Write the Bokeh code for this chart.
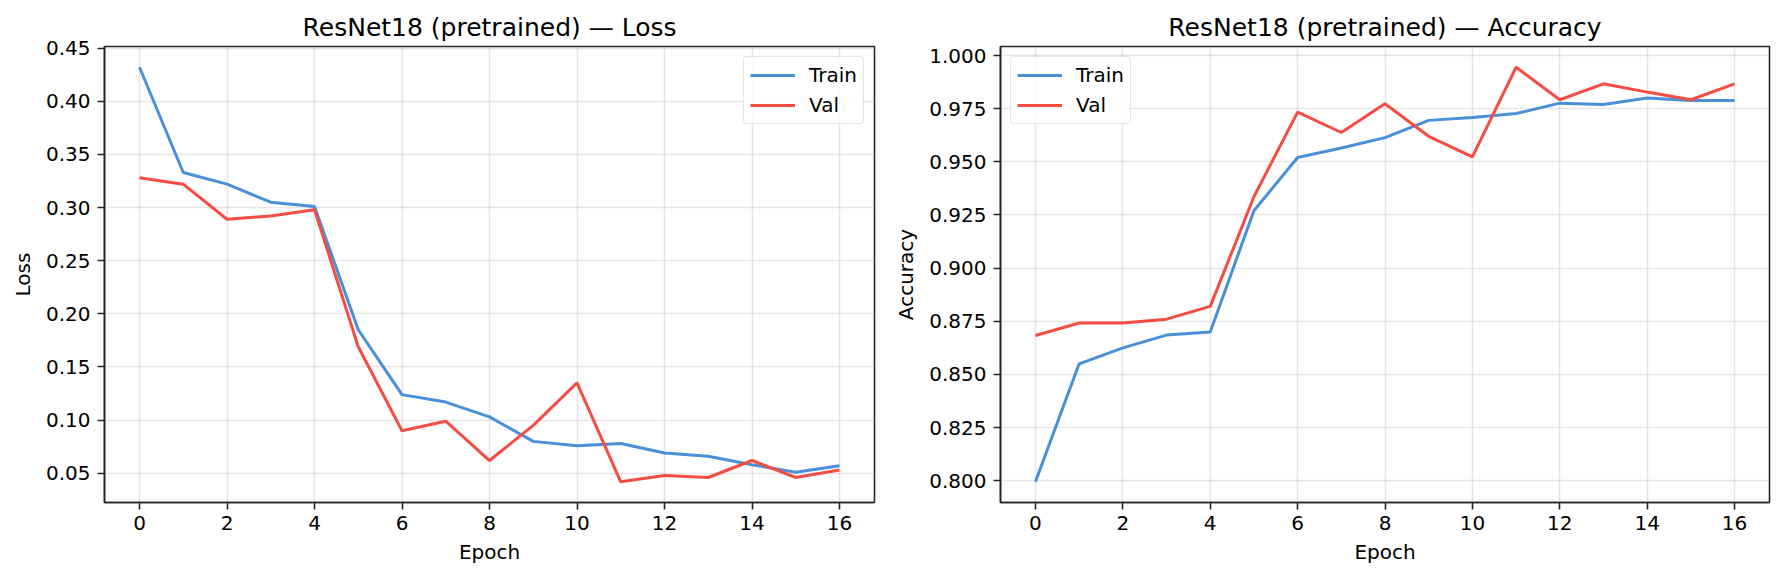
from bokeh.plotting import figure
from bokeh.layouts import row
from bokeh.models import SingleIntervalTicker, PrintfTickFormatter, Range1d, Legend, LegendItem
from bokeh.embed import file_html
from bokeh.resources import INLINE

epochs = list(range(17))
train_loss = [0.432, 0.333, 0.322, 0.305, 0.301, 0.185, 0.124, 0.117, 0.103, 0.080,
              0.076, 0.078, 0.069, 0.066, 0.058, 0.051, 0.057]
val_loss = [0.328, 0.322, 0.289, 0.292, 0.298, 0.169, 0.090, 0.099, 0.062, 0.095,
            0.135, 0.042, 0.048, 0.046, 0.062, 0.046, 0.053]
train_acc = [0.7995, 0.855, 0.8625, 0.8685, 0.870, 0.927, 0.952, 0.9565, 0.9614, 0.9695,
             0.9708, 0.9727, 0.9776, 0.977, 0.980, 0.9788, 0.9788]
val_acc = [0.8683, 0.8742, 0.8742, 0.876, 0.882, 0.9336, 0.9734, 0.9638, 0.9773, 0.962,
           0.9523, 0.9945, 0.9792, 0.9867, 0.9828, 0.9792, 0.9867]
series_labels = ["Train", "Val"]
titles = ["ResNet18 (pretrained) \u2014 Loss", "ResNet18 (pretrained) \u2014 Accuracy"]
y_labels = ["Loss", "Accuracy"]
x_label = "Epoch"

BLUE = "#4a90d9"
RED = "#f54c44"
FONT = "DejaVu Sans"
INK = "#262626"


def padded(vals, frac=0.05):
    lo, hi = min(vals), max(vals)
    d = (hi - lo) * frac
    return lo - d, hi + d


def make(title, ylab, tr, va, y_interval, fmt, legend_loc, bl, br, w):
    x0, x1 = padded(epochs)
    y0, y1 = padded(tr + va)
    p = figure(width=w, height=572, output_backend="svg", toolbar_location=None,
               x_range=Range1d(x0, x1), y_range=Range1d(y0, y1),
               min_border_left=bl, min_border_right=br, min_border_top=46, min_border_bottom=70)
    p.title.text = title
    p.title.text_font = FONT
    p.title.text_font_size = "25px"
    p.title.text_font_style = "normal"
    p.title.text_color = "black"
    p.title.align = "center"
    p.title.standoff = 10

    r1 = p.line(epochs, tr, line_color=BLUE, line_width=3)
    r2 = p.line(epochs, va, line_color=RED, line_width=3)

    p.xaxis.ticker = SingleIntervalTicker(interval=2)
    p.yaxis.ticker = SingleIntervalTicker(interval=y_interval)
    p.yaxis.formatter = PrintfTickFormatter(format=fmt)
    p.xaxis.axis_label = x_label
    p.yaxis.axis_label = ylab
    for ax in (p.xaxis, p.yaxis):
        ax.axis_line_color = INK
        ax.axis_line_width = 1.6
        ax.major_tick_line_color = INK
        ax.major_tick_line_width = 1.6
        ax.major_tick_out = 7
        ax.major_tick_in = 0
        ax.minor_tick_out = 0
        ax.minor_tick_in = 0
        ax.major_label_text_font = FONT
        ax.major_label_text_font_size = "20px"
        ax.major_label_text_color = "black"
        ax.axis_label_text_font = FONT
        ax.axis_label_text_font_size = "20px"
        ax.axis_label_text_font_style = "normal"
        ax.axis_label_text_color = "black"
        ax.major_label_standoff = 7
        ax.axis_label_standoff = 8
    p.xaxis.major_label_standoff = 6
    p.xaxis.axis_label_standoff = 7

    for g in (p.xgrid, p.ygrid):
        g.grid_line_color = "#b0b0b0"
        g.grid_line_alpha = 0.3
        g.grid_line_width = 1.6

    p.outline_line_color = INK
    p.outline_line_width = 1.6
    p.outline_line_alpha = 1.0

    leg = Legend(items=[LegendItem(label=series_labels[0], renderers=[r1]),
                        LegendItem(label=series_labels[1], renderers=[r2])],
                 location=legend_loc)
    leg.label_text_font = FONT
    leg.label_text_font_size = "20px"
    leg.label_text_color = "black"
    leg.glyph_width = 45
    leg.glyph_height = 24
    leg.spacing = 6
    leg.padding = 6
    leg.margin = 10
    leg.label_standoff = 14
    leg.border_line_color = "#cccccc"
    leg.border_line_width = 1.6
    leg.border_radius = 4
    leg.background_fill_alpha = 0.8
    p.add_layout(leg, "center")
    return p


p1 = make(titles[0], y_labels[0], train_loss, val_loss, 0.05, "%.2f", "top_right", 104, 14, 888)
p2 = make(titles[1], y_labels[1], train_acc, val_acc, 0.025, "%.3f", "top_left", 112, 7, 888)

layout = row(p1, p2, spacing=0)
open("out.html", "w").write(file_html(layout, INLINE))
